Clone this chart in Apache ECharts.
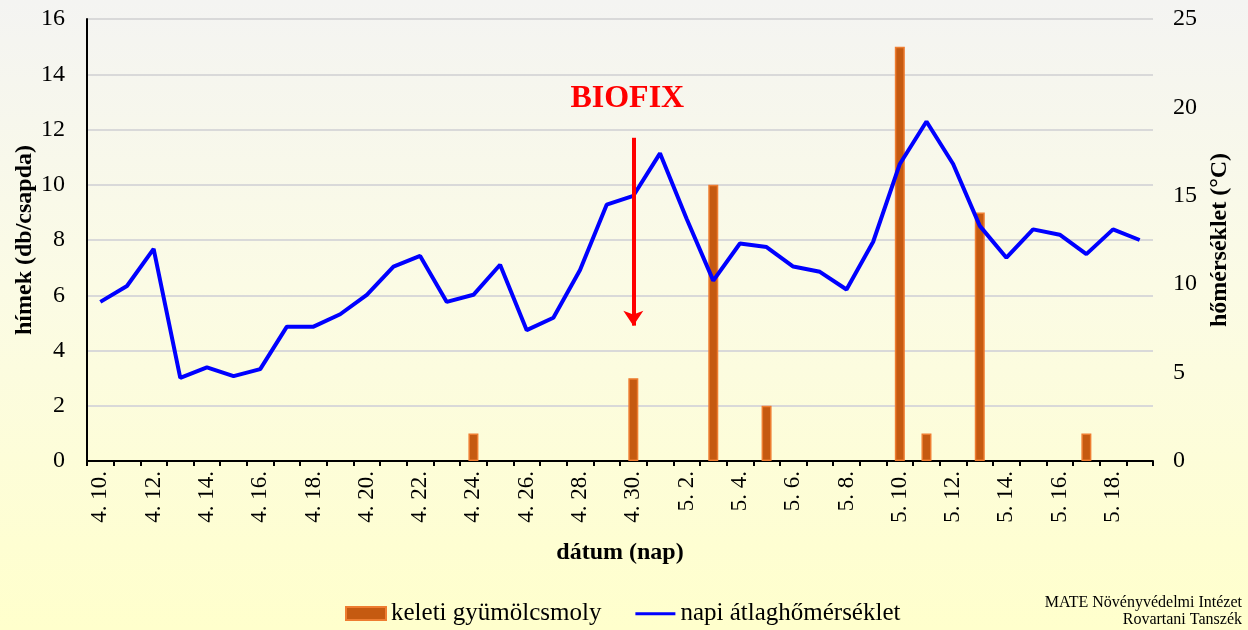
<!DOCTYPE html>
<html>
<head>
<meta charset="utf-8">
<script src="https://cdn.jsdelivr.net/npm/echarts@6/dist/echarts.min.js"></script>
<style>
html,body{margin:0;padding:0;}
#c{width:1248px;height:630px;}
</style>
</head>
<body>
<div id="c"></div>
<script>
const dates = ['4. 10.','4. 11.','4. 12.','4. 13.','4. 14.','4. 15.','4. 16.','4. 17.','4. 18.','4. 19.','4. 20.','4. 21.','4. 22.','4. 23.','4. 24.','4. 25.','4. 26.','4. 27.','4. 28.','4. 29.','4. 30.',
  '5. 1.','5. 2.','5. 3.','5. 4.','5. 5.','5. 6.','5. 7.','5. 8.','5. 9.','5. 10.','5. 11.','5. 12.','5. 13.','5. 14.','5. 15.','5. 16.','5. 17.','5. 18.','5. 19.'];
const moths = [0,0,0,0,0,0,0,0,0,0,0,0,0,0,1,0,0,0,0,0,3,
  0,0,10,0,2,0,0,0,0,15,1,0,9,0,0,0,1,0,0];
const temps = [9.0,9.9,12.0,4.7,5.3,4.8,5.2,7.6,7.6,8.3,9.4,11.0,11.6,9.0,9.4,11.1,7.4,8.1,10.8,14.5,15.0,
  17.4,13.7,10.2,12.3,12.1,11.0,10.7,9.7,12.4,16.8,19.2,16.8,13.3,11.5,13.1,12.8,11.7,13.1,12.5];
const leftTicks = {min:0, max:16, interval:2};
const rightTicks = {min:0, max:25, interval:5};
const biofixDate = '4. 30.';

const FONT = '"Liberation Serif", "Times New Roman", serif';
const chart = echarts.init(document.getElementById('c'));
chart.setOption({
  backgroundColor: new echarts.graphic.LinearGradient(0,0,0,1,[
    {offset:0,color:'#F4F4F2'},{offset:0.45,color:'#FBFBE5'},{offset:1,color:'#FFFFCC'}]),
  animation:false,
  textStyle:{fontFamily:FONT},
  grid:{left:87,right:95,top:19,bottom:169,containLabel:false,outerBoundsMode:'none'},
  legend:{
    left:345, top:601, padding:0, itemWidth:40, itemHeight:13, itemGap:34,
    textStyle:{fontFamily:FONT,fontSize:25,color:'#000'},
    data:[{name:'keleti gyümölcsmoly',icon:'rect'},
          {name:'napi átlaghőmérséklet',icon:'path://M0,0 M0,5 L48,5 L48,8.5 L0,8.5 Z M48,13'}]
  },
  xAxis:{
    type:'category', data:dates, boundaryGap:true,
    name:'dátum (nap)', nameLocation:'middle', nameGap:80, nameMoveOverlap:false,
    nameTextStyle:{fontFamily:FONT,fontSize:24,fontWeight:'bold',color:'#000'},
    axisLine:{lineStyle:{color:'#000',width:2}},
    axisTick:{show:true,interval:0,length:5,lineStyle:{color:'#000',width:2}},
    axisLabel:{interval:1,rotate:90,fontFamily:FONT,fontSize:23,color:'#000',margin:10},
    splitLine:{show:false}
  },
  yAxis:[{
    type:'value', min:leftTicks.min, max:leftTicks.max, interval:leftTicks.interval,
    name:'hímek (db/csapda)', nameLocation:'middle', nameGap:50, nameRotate:90, nameMoveOverlap:false,
    nameTextStyle:{fontFamily:FONT,fontSize:24,fontWeight:'bold',color:'#000'},
    axisLine:{show:true,lineStyle:{color:'#000',width:2}},
    axisTick:{show:false},
    axisLabel:{fontFamily:FONT,fontSize:24,color:'#000',margin:22},
    splitLine:{show:true,lineStyle:{color:'#D9D9D9',width:2}}
  },{
    type:'value', position:'right', min:rightTicks.min, max:rightTicks.max, interval:rightTicks.interval,
    name:'hőmérséklet (°C)', nameLocation:'middle', nameGap:55, nameRotate:90, nameMoveOverlap:false,
    nameTextStyle:{fontFamily:FONT,fontSize:24,fontWeight:'bold',color:'#000'},
    axisLine:{show:false},
    axisTick:{show:false},
    axisLabel:{fontFamily:FONT,fontSize:24,color:'#000',margin:20},
    splitLine:{show:false}
  }],
  series:[{
    name:'keleti gyümölcsmoly', type:'bar', data:moths.map(v => v === 0 ? null : v), yAxisIndex:0, barWidth:10,
    itemStyle:{color:'#C55A11',borderColor:'#EE7D31',borderWidth:1.5},
    markLine:{
      silent:true, symbol:['none','arrow'], symbolSize:[15,15],
      lineStyle:{color:'#FF0000',width:4,type:'solid'},
      label:{show:false},
      data:[[{coord:[biofixDate,11.7]},{coord:[biofixDate,4.9]}]]
    },
    markPoint:{
      silent:true, symbol:'circle', symbolSize:1, itemStyle:{color:'rgba(0,0,0,0)'},
      label:{show:true,formatter:'BIOFIX',position:'inside',offset:[-6,0],
        fontFamily:FONT,fontSize:32,fontWeight:'bold',color:'#FF0000'},
      data:[{coord:[biofixDate,13.1]}]
    }
  },{
    name:'napi átlaghőmérséklet', type:'line', data:temps, yAxisIndex:1,
    symbol:'none', lineStyle:{color:'#0000FF',width:4}, itemStyle:{color:'#0000FF'}
  }],
  graphic:[{
    type:'text', right:6, bottom:2,
    style:{text:'MATE Növényvédelmi Intézet\nRovartani Tanszék', textAlign:'right',
      font:'16px "Liberation Serif", serif', fill:'#000', lineHeight:17}
  }]
});
</script>
</body>
</html>
